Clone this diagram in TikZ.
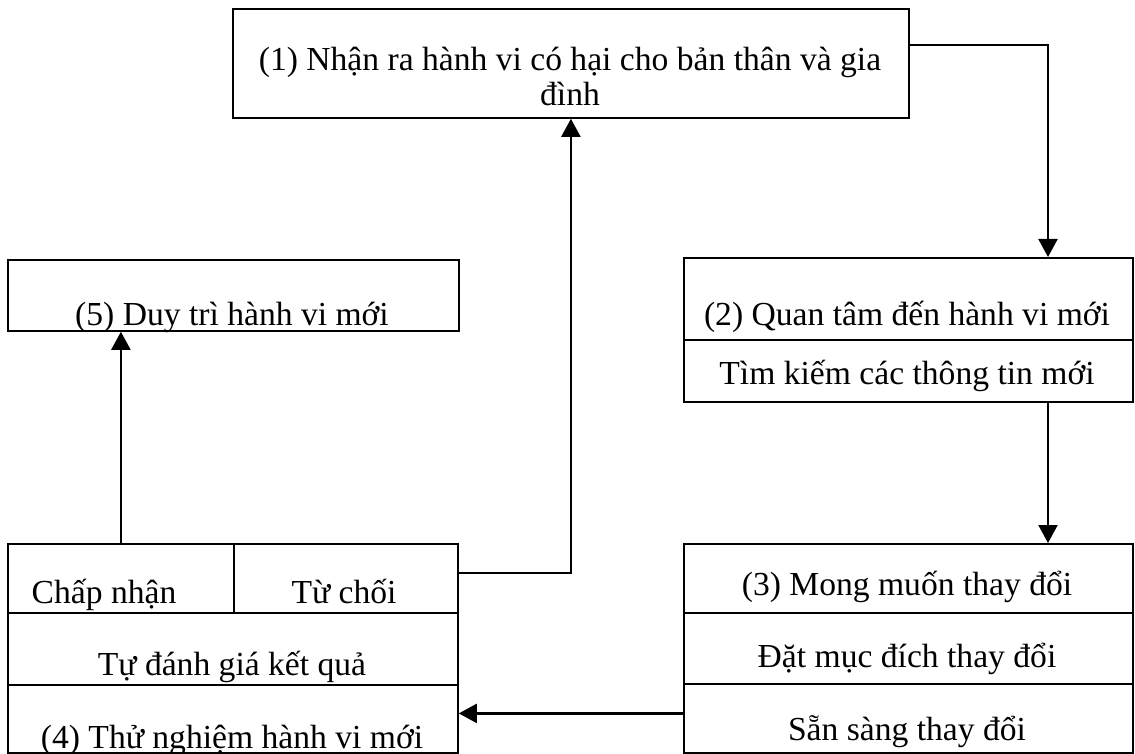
\documentclass[tikz,border=0pt]{standalone}
\usepackage{fontspec}
\setmainfont{Liberation Serif}
\usetikzlibrary{arrows.meta}
\begin{document}
\begin{tikzpicture}[x=0.5pt,y=-0.5pt,
  cell/.style 2 args={draw, line width=0.9pt, rectangle, inner sep=0pt, anchor=north west,
    minimum width=#1*0.5pt, minimum height=#2*0.5pt},
  txt/.style={anchor=base, inner sep=0pt, font=\fontsize{16.8}{17.5}\selectfont},
  arr/.style={line width=1.1pt, -{Triangle[length=9pt,width=9.5pt]}}]
\useasboundingbox (0,0) rectangle (1135,754);
% boxes
\node[cell={676}{109}] (n1) at (232,8) {};
\node[cell={451}{71}] (n5) at (7,259) {};
\node[cell={449}{82}] (n2a) at (683,257) {};
\node[cell={449}{62}] (n2b) at (683,339) {};
\node[cell={449}{69}] (n3a) at (683,543) {};
\node[cell={449}{71}] (n3b) at (683,612) {};
\node[cell={449}{69}] (n3c) at (683,683) {};
\node[cell={226}{69}] (n4a) at (7,543) {};
\node[cell={224}{69}] (n4b) at (233,543) {};
\node[cell={450}{72}] (n4c) at (7,612) {};
\node[cell={450}{68}] (n4d) at (7,684) {};
% texts
\node[txt] (t1a) at (570,71) {(1) Nhận ra hành vi có hại cho bản thân và gia};
\node[txt] (t1b) at (570,106) {đình};
\node[txt] (t5) at (232,326) {(5) Duy trì hành vi mới};
\node[txt] (t2a) at (907,326) {(2) Quan tâm đến hành vi mới};
\node[txt] (t2b) at (907,384) {Tìm kiếm các thông tin mới};
\node[txt] (t3a) at (907,595) {(3) Mong muốn thay đổi};
\node[txt] (t3b) at (907,667) {Đặt mục đích thay đổi};
\node[txt] (t3c) at (907,740) {Sẵn sàng thay đổi};
\node[txt] (t4a) at (104,603) {Chấp nhận};
\node[txt] (t4b) at (344,603) {Từ chối};
\node[txt] (t4c) at (232,675) {Tự đánh giá kết quả};
\node[txt] (t4d) at (232,748) {(4) Thử nghiệm hành vi mới};
% connectors
\coordinate (lane) at (1048,45);
\coordinate (p34) at ([yshift=2.5pt]n3c.west);
\coordinate (p41) at ([yshift=2.75pt]n4b.east);
\draw[arr] (n1.east |- lane) -| (n2a.north -| lane);
\draw[arr] (n2b.south -| lane) -- (n3a.north -| lane);
\draw[arr] (p34) -- (p34 -| n4d.east);
\draw[arr] (p41) -| (n1.south);
\draw[arr] (n4a.north) -- (n4a.north |- n5.south);
\end{tikzpicture}
\end{document}
